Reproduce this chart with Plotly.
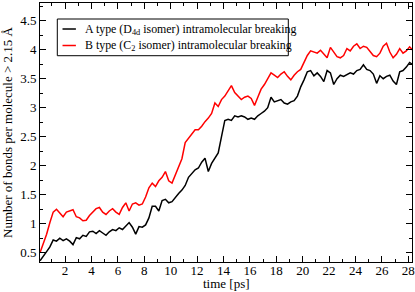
import plotly.graph_objects as go

black_a = [0.36, 0.45, 0.52, 0.60, 0.72, 0.70, 0.75, 0.71, 0.74, 0.70,
           0.64, 0.76, 0.74, 0.80, 0.78, 0.86, 0.87, 0.83, 0.88, 0.84,
           0.80, 0.86, 0.90, 0.88, 0.93, 0.90, 0.97, 1.02, 0.94, 0.82,
           0.95, 0.94, 0.98, 1.10, 1.30, 1.30, 1.22, 1.40, 1.42, 1.36,
           1.38, 1.46, 1.52, 1.58, 1.66, 1.80, 1.86, 1.93, 1.96, 2.06,
           2.13, 1.90, 2.04, 2.12, 2.22, 2.50, 2.78, 2.80, 2.78, 2.86,
           2.84, 2.86, 2.84, 2.80, 2.82, 2.80, 2.86, 2.90, 2.94, 3.00,
           3.18, 3.10, 3.12, 3.14, 3.08, 3.06, 3.10, 3.12, 3.20, 3.36,
           3.48, 3.62, 3.64, 3.55, 3.60, 3.54, 3.45, 3.64, 3.60, 3.40,
           3.50, 3.56, 3.54, 3.57, 3.60, 3.58, 3.64, 3.66, 3.74, 3.66,
           3.64, 3.58, 3.42, 3.55, 3.50, 3.54, 3.56, 3.46, 3.40, 3.62,
           3.64, 3.70, 3.78, 3.74]

red_b = [0.50, 0.66, 0.82, 1.02, 1.20, 1.25, 1.18, 1.12, 1.20, 1.22,
         1.24, 1.12, 1.10, 1.05, 1.06, 1.14, 1.20, 1.26, 1.28, 1.20,
         1.16, 1.22, 1.26, 1.20, 1.16, 1.28, 1.36, 1.22, 1.34, 1.36,
         1.32, 1.34, 1.46, 1.62, 1.70, 1.64, 1.74, 1.80, 1.90, 1.74,
         1.70, 1.84, 2.00, 2.12, 2.40, 2.48, 2.54, 2.62, 2.62, 2.68,
         2.76, 2.82, 2.90, 3.08, 3.02, 3.14, 3.20, 3.28, 3.38, 3.26,
         3.20, 3.14, 3.18, 3.20, 3.16, 3.04, 3.18, 3.32, 3.40, 3.50,
         3.60, 3.56, 3.52, 3.58, 3.62, 3.54, 3.48, 3.56, 3.62, 3.66,
         3.78, 3.90, 3.98, 3.96, 3.94, 3.99, 3.92, 3.86, 4.04, 3.96,
         3.88, 3.86, 3.90, 4.02, 3.98, 4.06, 4.10, 4.02, 4.06, 4.04,
         3.97, 3.90, 3.88, 3.94, 4.06, 4.11, 3.96, 3.86, 3.92, 4.02,
         3.94, 3.98, 4.05, 3.99]

t_start = 0.1
t_step = 0.25
time_a = [round(t_start + t_step * i, 3) for i in range(len(black_a))]
time_b = [round(t_start + t_step * i, 3) for i in range(len(red_b))]

x_ticks = [2, 4, 6, 8, 10, 12, 14, 16, 18, 20, 22, 24, 26, 28]
y_ticks = [0.5, 1, 1.5, 2, 2.5, 3, 3.5, 4, 4.5]
y_tick_text = ["0.5", "1", "1.5", "2", "2.5", "3", "3.5", "4", "4.5"]

series_names = ["A type (D<sub>4d</sub> isomer) intramolecular breaking",
                "B type (C<sub>2</sub> isomer) intramolecular breaking"]
series_colors = ["black", "#ff0000"]
x_title = "time [ps]"
y_title = "Number of bonds per molecule > 2.15 Å"

FONT = "Liberation Serif, Times New Roman, serif"

fig = go.Figure()
for t, v, name, col in zip([time_a, time_b], [black_a, red_b], series_names, series_colors):
    fig.add_trace(go.Scatter(x=t, y=v, mode="lines", line=dict(color=col, width=1.5),
                             name=name, showlegend=False))

# legend drawn as a framed box in paper coordinates
leg_x0, leg_x1, leg_y0, leg_y1 = 0.0465, 0.6675, 0.7965, 0.9382
fig.add_shape(type="rect", xref="paper", yref="paper", x0=leg_x0, x1=leg_x1, y0=leg_y0, y1=leg_y1,
              line=dict(color="black", width=1), fillcolor="white", layer="above")
row_y = [0.8996, 0.8359]
for yy, name, col in zip(row_y, series_names, series_colors):
    fig.add_shape(type="line", xref="paper", yref="paper", x0=0.0605, x1=0.0965, y0=yy, y1=yy,
                  line=dict(color=col, width=1.5), layer="above")
    fig.add_annotation(xref="paper", yref="paper", x=0.1148, y=yy, xanchor="left", yanchor="middle",
                       text=name, showarrow=False, font=dict(family=FONT, size=11.9, color="black"))

# x-axis title placed at the bottom edge
fig.add_annotation(xref="paper", yref="paper", x=0.5, y=-0.1158, xanchor="center", yanchor="bottom",
                   text=x_title, showarrow=False, borderpad=0,
                   font=dict(family=FONT, size=13, color="black"))

axis_common = dict(showline=True, linecolor="black", linewidth=1, mirror="allticks",
                   ticks="inside", ticklen=6, tickcolor="black", tickwidth=1,
                   showgrid=False, zeroline=False, automargin=False,
                   tickfont=dict(family=FONT, size=13, color="black"))

fig.update_xaxes(range=[0.1, 28.28], tickvals=x_ticks, ticklabelstandoff=-4,
                 minor=dict(ticks="inside", ticklen=3, dtick=1, tick0=0, tickcolor="black"),
                 **axis_common)
fig.update_yaxes(range=[0.34, 4.805], tickvals=y_ticks, ticktext=y_tick_text,
                 minor=dict(ticks="inside", ticklen=3, dtick=0.25, tick0=0, tickcolor="black"),
                 title=dict(text=y_title, font=dict(family=FONT, size=13, color="black")),
                 **axis_common)

fig.update_layout(
    width=415, height=292,
    margin=dict(l=40, r=3, t=3, b=30),
    paper_bgcolor="white", plot_bgcolor="white",
    showlegend=False,
)

fig.write_html("out.html", config={"displayModeBar": False},
               post_script="document.body.style.margin='0px';document.body.style.padding='0px';")
